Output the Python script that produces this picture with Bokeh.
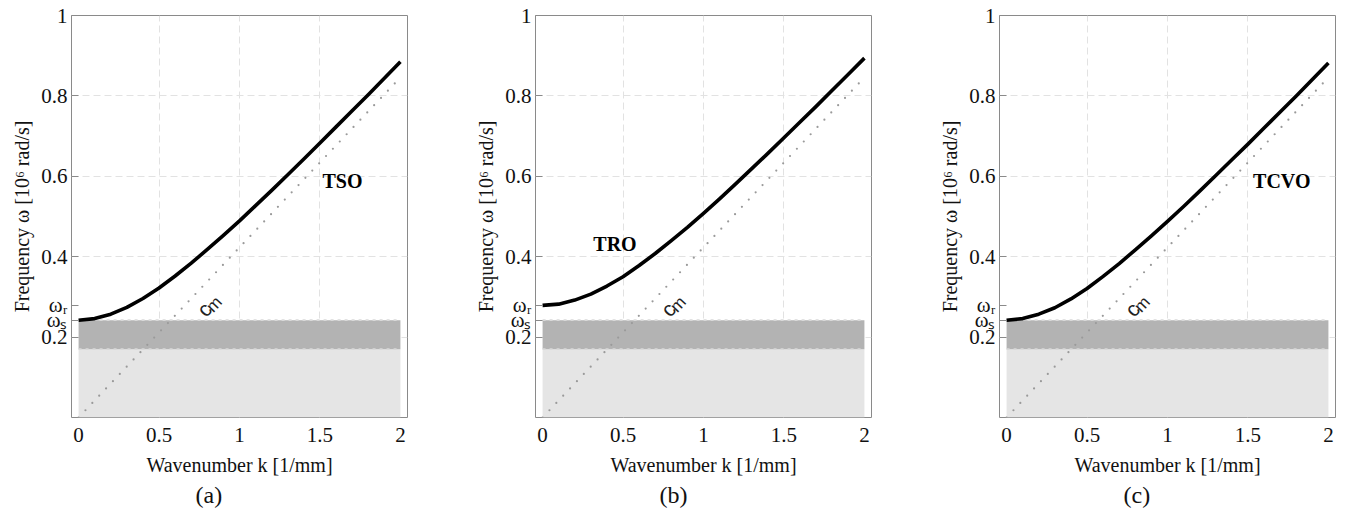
from bokeh.plotting import figure
from bokeh.models import Range1d, FixedTicker, Title, PrintfTickFormatter
from bokeh.layouts import row
from bokeh.embed import file_html
from bokeh.resources import INLINE
from bokeh.core.properties import value

# ---------------- data ----------------
k_vals = [0.0, 0.1, 0.2, 0.3, 0.4, 0.5, 0.6, 0.7, 0.8, 0.9, 1.0,
          1.1, 1.2, 1.3, 1.4, 1.5, 1.6, 1.7, 1.8, 1.9, 2.0]
w_tso = [0.242, 0.246, 0.257, 0.274, 0.296, 0.322, 0.352, 0.384, 0.418, 0.453, 0.489,
         0.527, 0.565, 0.604, 0.643, 0.683, 0.723, 0.763, 0.803, 0.844, 0.885]
w_tro = [0.279, 0.282, 0.292, 0.307, 0.327, 0.350, 0.378, 0.408, 0.440, 0.473, 0.508,
         0.544, 0.581, 0.619, 0.657, 0.696, 0.735, 0.774, 0.814, 0.854, 0.894]
w_tcvo = [0.242, 0.246, 0.257, 0.273, 0.295, 0.321, 0.351, 0.383, 0.417, 0.452, 0.488,
          0.525, 0.563, 0.602, 0.641, 0.680, 0.720, 0.760, 0.800, 0.841, 0.882]
curves = [w_tso, w_tro, w_tcvo]

cm_k = [0.0, 2.0]
cm_w = [0.0, 0.846]

omega_r = 0.279
omega_s = 0.242
omega_lo = 0.17
band_floor = 0.0
band_k = [0.0, 2.0]

curve_names = ["TSO", "TRO", "TCVO"]
name_k = [1.64, 0.45, 1.71]
name_w = [0.589, 0.431, 0.589]
cm_label_k = 0.78
cm_label_w = 0.269

panel_labels = ["(a)", "(b)", "(c)"]
x_ticks = [0, 0.5, 1, 1.5, 2]
y_ticks = [0.2, 0.4, 0.6, 0.8, 1.0]
x_grid = [0.5, 1.0, 1.5]
y_grid = [0.2, 0.4, 0.6, 0.8]

X_LO, X_HI = -0.044, 2.044
SERIF = "Liberation Serif"
SANS = "Liberation Sans"


def make_panel(i, width, left_border, right_border):
    p = figure(width=width, height=516,
               x_range=Range1d(X_LO, X_HI), y_range=Range1d(0, 1),
               output_backend="svg", toolbar_location=None,
               min_border_left=left_border, min_border_right=right_border,
               min_border_top=15, min_border_bottom=99)
    p.background_fill_color = "white"
    p.border_fill_color = "white"
    p.outline_line_color = "#8a8a8a"
    p.outline_line_width = 1

    # grid
    p.xgrid.ticker = FixedTicker(ticks=x_grid)
    p.ygrid.ticker = FixedTicker(ticks=y_grid)
    for g in (p.xgrid, p.ygrid):
        g.grid_line_color = "#e2e2e2"
        g.grid_line_dash = "7 4"
        g.grid_line_width = 1

    # axes
    p.xaxis.ticker = FixedTicker(ticks=x_ticks)
    p.xaxis.formatter = PrintfTickFormatter(format="%g")
    p.yaxis.ticker = FixedTicker(ticks=y_ticks + [omega_s, omega_r])
    p.yaxis.formatter = PrintfTickFormatter(format="%g")
    p.yaxis.major_label_overrides = {omega_s: "ωₛ", omega_r: "ωᵣ"}
    for ax in (p.xaxis, p.yaxis):
        ax.axis_line_color = None
        ax.major_tick_out = 0
        ax.minor_tick_in = 0
        ax.minor_tick_out = 0
        ax.major_label_text_font = SERIF
        ax.major_label_text_font_size = "21px"
        ax.major_label_text_color = "#111111"
        ax.axis_label_text_font = SERIF
        ax.axis_label_text_font_size = "20px"
        ax.axis_label_text_font_style = "normal"
        ax.axis_label_text_color = "#111111"
    p.xaxis.major_tick_in = 0
    p.yaxis.major_tick_in = 7
    p.yaxis.major_tick_line_color = "#8a8a8a"
    p.xaxis.major_label_standoff = 10
    p.yaxis.major_label_standoff = 4
    p.xaxis.axis_label = "Wavenumber k [1/mm]"
    p.yaxis.axis_label = "Frequency ω [10⁶ rad/s]"
    p.xaxis.axis_label_standoff = 9
    p.yaxis.axis_label_standoff = 5

    # bands
    p.quad(left=[band_k[0]], right=[band_k[1]], bottom=[band_floor], top=[omega_lo],
           fill_color="#e5e5e5", line_color=None)
    p.quad(left=[band_k[0]], right=[band_k[1]], bottom=[omega_lo], top=[omega_s],
           fill_color="#b3b3b3", line_color=None)
    for lev in (omega_s, omega_lo):
        p.line(band_k, [lev, lev], line_color="#d9d9d9", line_width=1.8,
               line_dash="3 4")

    # c_m dotted line
    p.line(cm_k, cm_w, line_color="#9a9a9a", line_width=2.2, line_dash="0 10",
           line_cap="round")
    p.text(x=[cm_label_k], y=[cm_label_w], text=["c"], angle=0.81,
           text_font=value(SANS), text_font_size="21px", text_color="#222222",
           text_align="center", text_baseline="middle")
    p.text(x=[cm_label_k], y=[cm_label_w], text=["m"], angle=0.81,
           x_offset=10, y_offset=-5,
           text_font=value(SANS), text_font_size="17px", text_color="#222222",
           text_align="center", text_baseline="middle")

    # dispersion curve
    p.line(k_vals, curves[i], line_color="black", line_width=3.6, line_join="round")
    p.text(x=[name_k[i]], y=[name_w[i]], text=[curve_names[i]],
           text_font=value(SERIF), text_font_size="20px", text_font_style="bold",
           text_color="black", text_align="center", text_baseline="middle")

    t = Title(text=panel_labels[i], align="left", offset=124,
              text_font=SERIF, text_font_size="24px", text_font_style="normal",
              text_color="#111111", standoff=3)
    p.add_layout(t, "below")
    return p


pa = make_panel(0, 471, 71, 64)
pb = make_panel(1, 464, 64, 64)
pc = make_panel(2, 433, 64, 33)

layout = row(pa, pb, pc)
open("out.html", "w").write(file_html(layout, INLINE))
